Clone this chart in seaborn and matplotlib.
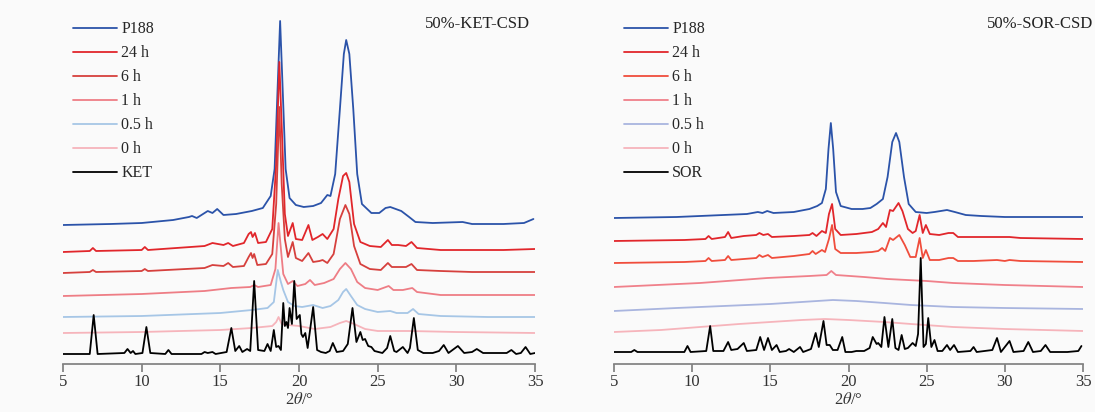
import matplotlib
matplotlib.use("Agg")
import matplotlib.pyplot as plt
import seaborn as sns
import pandas as pd

# ---- 50%-KET-CSD (left panel), intensity (a.u., stacked)
ket_p188_x = [5, 8, 10, 12, 13.0, 13.2, 13.5, 14.2, 14.5, 14.8, 15.2, 16.0, 17.0, 17.7, 18.2, 18.45, 18.65, 18.8, 18.95,
              19.15, 19.4, 19.8, 20.3, 20.9, 21.4, 21.8, 22.0, 22.3, 22.6, 22.85, 23.0, 23.2, 23.45, 23.7, 24.0, 24.6,
              25.1, 25.5, 25.8, 26.5, 27.0, 27.4, 28.5, 30.4, 31, 33, 34.3, 34.9]
ket_p188_y = [139, 140, 141, 144, 147, 148, 146, 153, 151, 155, 149, 150, 153, 156, 168, 195, 280, 343, 280,
              195, 166, 159, 157, 158, 161, 169, 168, 190, 255, 310, 324, 310, 255, 190, 160, 151,
              151, 156, 157, 153, 147, 142, 141, 142, 140, 140, 141, 145]

ket_24h_x = [5, 6.7, 6.9, 7.1, 10.0, 10.2, 10.4, 14.0, 14.5, 15.2, 15.5, 15.8, 16.5, 16.8, 16.95, 17.05, 17.2, 17.4,
             17.9, 18.3, 18.55, 18.75, 18.92, 19.1, 19.3, 19.6, 19.8, 20.2, 20.6, 20.85, 21.2, 21.5, 21.8, 22.2, 22.5,
             22.8, 23.0, 23.2, 23.5, 23.9, 24.5, 25.2, 25.65, 25.9, 26.3, 26.8, 27.15, 27.5, 29, 31, 33, 35]
ket_24h_y = [112, 113, 116, 113, 114, 117, 114, 118, 121, 119, 121, 118, 121, 130, 132, 127, 131, 121,
             122, 135, 200, 302, 230, 150, 128, 141, 125, 124, 139, 124, 127, 130, 125, 135, 165,
             188, 191, 182, 140, 122, 118, 117, 124, 119, 119, 118, 122, 116, 114, 114, 114, 115]

ket_6h_x = [5, 6.7, 6.9, 7.1, 10.0, 10.2, 10.4, 14.0, 14.5, 15.2, 15.5, 15.8, 16.5, 16.8, 16.95, 17.05, 17.15, 17.35,
            17.9, 18.3, 18.55, 18.75, 18.9, 19.1, 19.3, 19.6, 19.8, 20.2, 20.6, 20.9, 21.3, 21.5, 21.8, 22.2, 22.6,
            22.95, 23.2, 23.5, 23.9, 24.5, 25.2, 25.65, 25.9, 26.3, 26.8, 27.15, 27.5, 29, 31, 33, 35]
ket_6h_y = [91, 92, 94, 92, 93, 95, 93, 96, 99, 98, 101, 97, 98, 107, 111, 106, 110, 99,
            100, 110, 160, 257, 180, 125, 107, 122, 106, 103, 111, 102, 103, 104, 101, 110, 145,
            159, 150, 118, 100, 95, 94, 101, 97, 97, 97, 100, 94, 93, 92, 92, 92]

ket_1h_x = [5, 10, 14, 15.7, 16.9, 17.15, 17.4, 18.2, 18.5, 18.7, 18.85, 19.0, 19.3, 19.6, 19.9, 20.4, 20.7, 21.0,
            21.6, 22.2, 22.6, 22.95, 23.3, 23.7, 24.2, 25.0, 25.7, 26.0, 26.6, 27.2, 27.5, 29, 32, 35]
ket_1h_y = [68, 70, 73, 76, 77, 79, 77, 79, 95, 141, 115, 90, 80, 83, 78, 80, 84, 79,
            81, 85, 95, 101, 95, 82, 76, 74, 78, 74, 74, 76, 72, 69, 69, 69]

ket_05h_x = [5, 10, 15, 17, 18.0, 18.4, 18.65, 18.85, 19.0, 19.3, 19.7, 20.2, 20.9, 21.5, 22.0, 22.5, 22.8, 23.0,
             23.3, 23.7, 24.2, 25.0, 25.8, 26.2, 26.9, 27.25, 27.6, 29, 32, 35]
ket_05h_y = [47, 48, 51, 54, 56, 62, 94, 82, 74, 62, 58, 57, 59, 56, 58, 64, 72, 75,
             68, 59, 55, 52, 53, 51, 51, 55, 50, 48, 47, 47]

ket_0h_x = [5, 10, 15, 17, 18.3, 18.55, 18.7, 18.9, 19.3, 20, 21, 22, 22.6, 23.0, 23.5, 24.2, 25, 27, 30, 35]
ket_0h_y = [31, 32, 34, 36, 38, 42, 47, 40, 39, 38, 35, 37, 41, 43, 40, 35, 33, 33, 32, 31]

ket_x = [5, 6.7, 6.95, 7.2, 8.9, 9.1, 9.3, 9.45, 9.6, 10.05, 10.3, 10.55, 11.5, 11.7, 11.9, 13.8, 14.0, 14.2, 14.5,
         14.7, 15.4, 15.7, 15.95, 16.2, 16.4, 16.7, 16.9, 17.15, 17.4, 17.8, 18.0, 18.2, 18.4, 18.55, 18.7, 18.85,
         19.0, 19.1, 19.2, 19.3, 19.4, 19.55, 19.7, 19.85, 19.95, 20.05, 20.15, 20.25, 20.4, 20.55, 20.9, 21.15,
         21.4, 21.7, 21.95, 22.15, 22.4, 22.8, 23.1, 23.4, 23.65, 23.9, 24.05, 24.2, 24.4, 24.6, 24.8, 25.3, 25.6,
         25.8, 26.05, 26.2, 26.6, 26.9, 27.05, 27.3, 27.55, 27.9, 28.5, 28.9, 29.2, 29.5, 30.1, 30.5, 31.0, 31.3,
         31.7, 32.5, 33.2, 33.5, 33.8, 34.1, 34.4, 34.7, 35.0]
ket_y = [10, 10, 49, 10, 11, 15, 11, 13, 10, 11, 37, 11, 10, 14, 10, 10, 12, 11, 12,
         10, 12, 36, 13, 18, 12, 15, 13, 83, 14, 13, 20, 13, 34, 17, 18, 14,
         61, 38, 42, 36, 56, 40, 83, 45, 47, 49, 30, 27, 31, 16, 57, 14,
         12, 11, 13, 21, 12, 13, 20, 56, 22, 32, 24, 25, 18, 17, 13, 11, 16,
         28, 13, 12, 17, 11, 16, 46, 14, 11, 11, 13, 19, 11, 18, 11, 12, 15,
         11, 11, 11, 14, 10, 11, 17, 10, 11]

# ---- 50%-SOR-CSD (right panel)
sor_p188_x = [5, 9, 12, 13.5, 14.2, 14.5, 14.8, 15.2, 16.5, 17.5, 18.0, 18.3, 18.55, 18.72, 18.87, 19.02, 19.2, 19.5,
              20.2, 20.9, 21.4, 21.8, 22.2, 22.5, 22.8, 23.04, 23.25, 23.55, 23.85, 24.3, 25.0, 25.5, 26.3, 26.8,
              27.5, 28.5, 30, 32, 35]
sor_p188_y = [146, 147, 149, 150, 152, 151, 153, 151, 152, 155, 158, 161, 175, 215, 241, 215, 172, 158,
              155, 155, 156, 160, 165, 187, 222, 231, 222, 187, 160, 152, 151, 152, 154, 152,
              149, 148, 147, 147, 147]

sor_24h_x = [5, 9.5, 10.85, 11.05, 11.25, 12.1, 12.3, 12.5, 13.3, 14.1, 14.3, 14.55, 14.85, 15.1, 16.5, 17.5, 17.7,
             17.95, 18.3, 18.55, 18.75, 18.95, 19.15, 19.5, 20.5, 21.5, 21.9, 22.2, 22.4, 22.65, 22.85, 23.2, 23.45,
             23.8, 24.1, 24.3, 24.55, 24.75, 24.95, 25.2, 25.8, 26.4, 26.7, 27.0, 28, 29.5, 30.3, 31, 35]
sor_24h_y = [123, 124, 125, 128, 125, 127, 132, 126, 128, 129, 131, 129, 130, 127, 128, 129, 131,
             128, 133, 131, 150, 160, 135, 129, 130, 132, 135, 141, 137, 154, 153, 161, 153,
             135, 131, 133, 149, 131, 139, 130, 129, 131, 131, 127, 127, 127, 127, 126, 125]

sor_6h_x = [5, 9.5, 10.85, 11.05, 11.25, 12.1, 12.3, 12.5, 13.3, 14.1, 14.3, 14.5, 14.85, 15.1, 16.5, 17.5, 17.7,
            17.9, 18.3, 18.5, 18.75, 18.95, 19.15, 19.5, 20.5, 21.5, 21.9, 22.15, 22.35, 22.65, 22.85, 23.25, 23.6,
            23.95, 24.3, 24.55, 24.75, 24.95, 25.2, 25.8, 26.4, 26.7, 27.0, 28, 29.5, 30.0, 30.3, 31, 35]
sor_6h_y = [101, 102, 103, 106, 103, 104, 108, 104, 105, 106, 109, 107, 109, 106, 108, 110, 113,
            110, 114, 112, 125, 139, 115, 111, 111, 112, 113, 116, 113, 126, 124, 129, 119,
            107, 107, 126, 106, 114, 104, 104, 106, 106, 103, 103, 104, 103, 104, 103, 102]

sor_1h_x = [5, 10.5, 14.8, 17.5, 18.6, 18.9, 19.2, 21, 22.5, 25, 26.7, 30, 35]
sor_1h_y = [77, 81, 86, 88, 89, 93, 89, 87, 85, 83, 81, 79, 77]

sor_05h_x = [5, 9, 12, 15, 17, 19, 20.5, 22.3, 24, 26.7, 30, 35]
sor_05h_y = [53, 56, 58, 60, 62, 64, 63, 61, 59, 57, 56, 55]

sor_0h_x = [5, 8, 10.5, 13, 15, 17, 18.5, 20, 22.3, 24, 26.7, 30, 35]
sor_0h_y = [32, 34, 37, 40, 42, 44, 45, 44, 42, 40, 37, 35, 33]

sor_x = [5, 6.1, 6.3, 6.5, 9.5, 9.7, 9.9, 10.9, 11.15, 11.35, 12.0, 12.3, 12.5, 12.9, 13.3, 13.5, 14.1, 14.35, 14.6,
         14.85, 15.1, 15.4, 15.6, 16.0, 16.2, 16.5, 16.9, 17.1, 17.6, 17.9, 18.1, 18.4, 18.6, 18.8, 19.0, 19.3,
         19.6, 19.8, 20.2, 20.5, 21.0, 21.35, 21.55, 21.8, 21.9, 22.1, 22.3, 22.55, 22.8, 23.0, 23.2, 23.4, 23.6,
         23.8, 24.1, 24.3, 24.45, 24.62, 24.8, 24.95, 25.1, 25.3, 25.5, 25.7, 26.0, 26.3, 26.5, 26.75, 27.0, 27.8,
         28.0, 28.2, 29.2, 29.5, 29.75, 30.3, 30.55, 31.2, 31.5, 31.8, 32.3, 32.6, 32.9, 34.0, 34.7, 34.9]
sor_y = [12, 12, 14, 12, 12, 18, 12, 13, 38, 13, 13, 22, 14, 15, 21, 13, 14, 27, 14,
         26, 14, 19, 12, 13, 15, 12, 17, 12, 15, 31, 17, 43, 19, 19, 14, 14,
         27, 12, 12, 13, 13, 16, 27, 20, 21, 17, 47, 17, 45, 16, 14, 29, 15,
         16, 21, 18, 30, 106, 17, 20, 46, 17, 24, 13, 13, 19, 14, 19, 12, 13,
         17, 12, 14, 26, 12, 23, 12, 13, 22, 12, 13, 19, 12, 12, 13, 18]

labels_ket = ["P188", "24 h", "6 h", "1 h", "0.5 h", "0 h", "KET"]
labels_sor = ["P188", "24 h", "6 h", "1 h", "0.5 h", "0 h", "SOR"]
colors_ket = ["#2b53a9", "#e1262b", "#d6403d", "#ee7d85", "#a6c6e6", "#f6b4bb", "#000000"]
colors_sor = ["#2b53a9", "#e1262b", "#f04d3c", "#f0808a", "#a9b5df", "#f6b4bb", "#000000"]

ket_series = [(ket_p188_x, ket_p188_y), (ket_24h_x, ket_24h_y), (ket_6h_x, ket_6h_y), (ket_1h_x, ket_1h_y),
              (ket_05h_x, ket_05h_y), (ket_0h_x, ket_0h_y), (ket_x, ket_y)]
sor_series = [(sor_p188_x, sor_p188_y), (sor_24h_x, sor_24h_y), (sor_6h_x, sor_6h_y), (sor_1h_x, sor_1h_y),
              (sor_05h_x, sor_05h_y), (sor_0h_x, sor_0h_y), (sor_x, sor_y)]


def to_frame(labels, series):
    rows = []
    for lab, (xs, ys) in zip(labels, series):
        for x, y in zip(xs, ys):
            rows.append({"label": lab, "x": x, "y": y})
    return pd.DataFrame(rows)


sns.set_theme(style="white")
plt.rcParams["font.family"] = ["Liberation Serif", "DejaVu Serif"]
plt.rcParams["mathtext.fontset"] = "stix"

fig = plt.figure(figsize=(10.95, 4.12), dpi=100)
fig.patch.set_facecolor("#fafafa")
ax1 = fig.add_axes([63 / 1095, 48 / 412, 472 / 1095, 354 / 412])
ax2 = fig.add_axes([614 / 1095, 48 / 412, 469 / 1095, 354 / 412])


def draw(ax, labels, colors, series, title, title_x):
    df = to_frame(labels, series)
    sns.lineplot(data=df, x="x", y="y", hue="label", hue_order=labels,
                 palette=dict(zip(labels, colors)), estimator=None, sort=False,
                 lw=1.3, ax=ax)
    ax.set_facecolor("none")
    ax.set_xlim(5, 35)
    ax.set_ylim(0, 354)
    ax.set_xticks([5, 10, 15, 20, 25, 30, 35])
    ax.set_yticks([])
    for s in ["left", "right", "top"]:
        ax.spines[s].set_visible(False)
    ax.spines["bottom"].set_color("#808080")
    ax.tick_params(axis="x", direction="out", length=6, color="#808080", labelsize=12,
                   labelcolor="#333333", pad=1, bottom=True)
    ax.set_xlabel("2$\\theta$/°", fontsize=12, color="#333333", labelpad=2)
    ax.set_ylabel("")
    handles, labs = ax.get_legend_handles_labels()
    ax.legend(handles, labs, loc="upper left", bbox_to_anchor=(0.0, 0.995), frameon=False,
              fontsize=11.5, handlelength=2.75, handletextpad=0.3, labelspacing=0.5,
              borderaxespad=0.2)
    ax.text(title_x, 0.96, title, transform=ax.transAxes, ha="right", va="center",
            fontsize=12, color="#222222")


draw(ax1, labels_ket, colors_ket, ket_series, "50%-KET-CSD", 0.99)
draw(ax2, labels_sor, colors_sor, sor_series, "50%-SOR-CSD", 1.022)

fig.savefig("out.png", dpi=100, facecolor=fig.get_facecolor())
